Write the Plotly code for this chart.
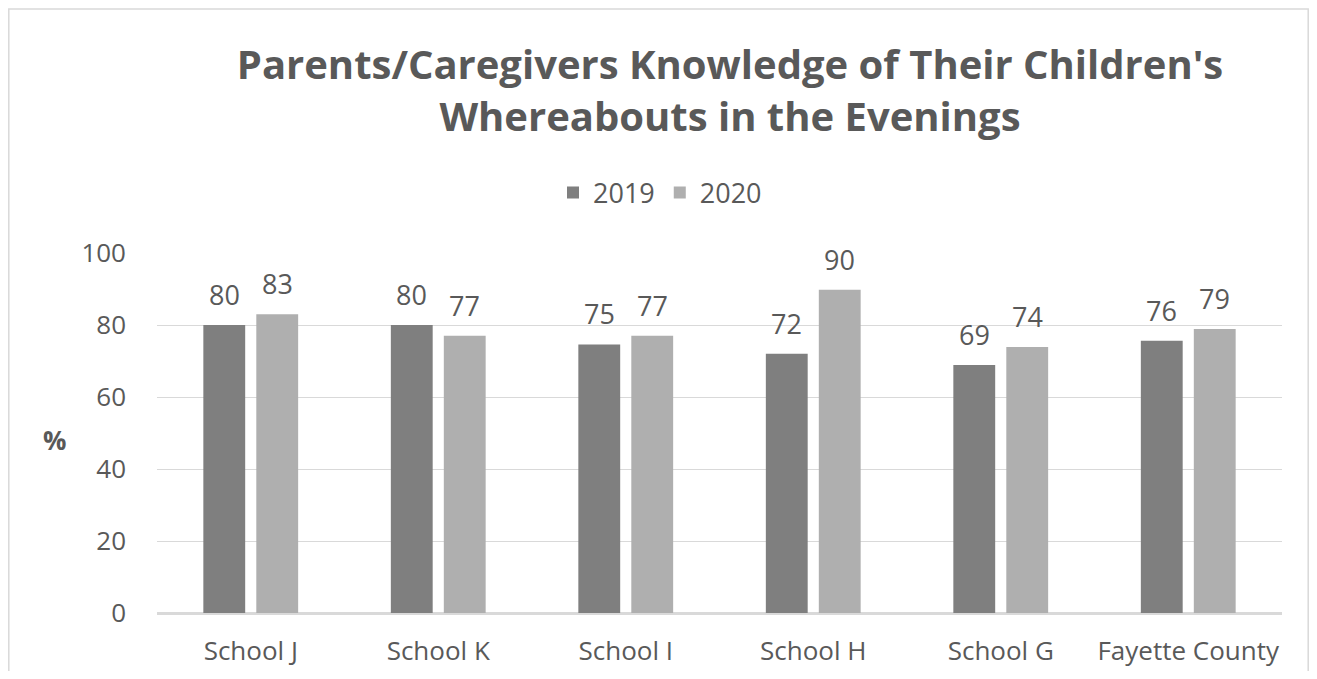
import plotly.graph_objects as go

categories = ["School J", "School K", "School I", "School H", "School G", "Fayette County"]
values_2019 = [80, 80, 74.6, 72, 68.9, 75.6]
values_2020 = [83, 77, 77, 89.8, 73.9, 78.9]
series_names = ["2019", "2020"]
colors = ["#7f7f7f", "#afafaf"]
title_text = "Parents/Caregivers Knowledge of Their Children's<br>Whereabouts in the Evenings"
y_label = "%"

TXT = "#595959"
FONT = "Open Sans"

# page body has an 8px margin; work in image coordinates and subtract it
OFF = 8
IW, IH = 1317, 679
W, H = IW - 2 * OFF, IH - 2 * OFF

# plot area in image pixels
PL, PR, PT, PB = 157, 1282, 253, 613
L, R, T, B = PL - OFF, W - (PR - OFF), PT - OFF, H - (PB - OFF)
pw, ph = PR - PL, PB - PT

fig = go.Figure()
for name, vals, col in zip(series_names, [values_2019, values_2020], colors):
    fig.add_trace(go.Bar(x=categories, y=vals, name=name, marker_color=col,
                         marker_line_width=0))

annotations = []
for shift, vals in zip([-26.5, 26.5], [values_2019, values_2020]):
    for c, v in zip(categories, vals):
        annotations.append(dict(x=c, y=v, text=f"{v:.0f}", showarrow=False,
                                xshift=shift, yshift=10, yanchor="bottom",
                                font=dict(family=FONT, size=27, color=TXT)))
annotations.append(dict(xref="paper", yref="paper", x=(55 - PL) / pw,
                        y=(PB - 440) / ph, text=f"<b>{y_label}</b>", showarrow=False,
                        xanchor="center", yanchor="middle",
                        font=dict(family=FONT, size=26, color=TXT)))

# border frame: left/right edges at figure edges, bottom beyond view
bx0 = (OFF + 0.8 - PL) / pw
bx1 = (OFF + W - 0.8 - PL) / pw

fig.update_layout(
    width=W, height=H,
    margin=dict(l=L, r=R, t=T, b=B, autoexpand=False),
    paper_bgcolor="white", plot_bgcolor="white",
    barmode="group", bargap=0.435, bargroupgap=0.21,
    font=dict(family=FONT, color=TXT),
    title=dict(text=title_text, x=(730 - OFF) / W, xanchor="center", xref="container",
               y=1 - (79 - OFF) / H, yanchor="middle", yref="container",
               font=dict(family=FONT, size=40, color=TXT, weight="bold")),
    legend=dict(orientation="h", x=(660 - OFF) / W, xanchor="center", xref="container",
                y=1 - (193 - OFF) / H, yanchor="middle", yref="container",
                font=dict(family=FONT, size=27, color=TXT),
                itemwidth=30, traceorder="normal"),
    annotations=annotations,
    shapes=[dict(type="rect", xref="paper", yref="paper",
                 x0=bx0, x1=bx1,
                 y0=(PB - 720) / ph, y1=(PB - 9) / ph,
                 line=dict(color="#d9d9d9", width=1.5), fillcolor="rgba(0,0,0,0)",
                 layer="below")],
)
fig.update_yaxes(range=[0, 100], dtick=20, showgrid=True, gridcolor="#d9d9d9",
                 gridwidth=1, zeroline=True, zerolinecolor="#d9d9d9",
                 tickfont=dict(family=FONT, size=26, color=TXT),
                 ticks="", ticklabelstandoff=30)
fig.update_xaxes(showline=True, linecolor="#d9d9d9", linewidth=1.5,
                 tickfont=dict(family=FONT, size=26, color=TXT),
                 ticks="", ticklabelstandoff=14)

fig.write_html("out.html")
